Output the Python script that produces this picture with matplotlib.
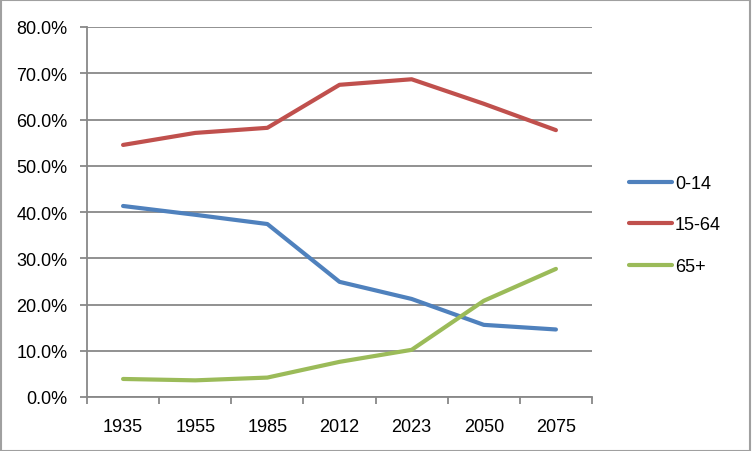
import matplotlib
matplotlib.use("Agg")
import matplotlib.pyplot as plt
from matplotlib.patches import Rectangle
from matplotlib.ticker import FuncFormatter

years = ["1935", "1955", "1985", "2012", "2023", "2050", "2075"]
age_0_14 = [41.3, 39.4, 37.4, 24.9, 21.2, 15.6, 14.6]
age_15_64 = [54.5, 57.1, 58.2, 67.5, 68.7, 63.4, 57.7]
age_65_plus = [3.9, 3.6, 4.2, 7.6, 10.2, 20.8, 27.7]

series = [("0-14", age_0_14, "#4F81BD"),
          ("15-64", age_15_64, "#C0504D"),
          ("65+", age_65_plus, "#9BBB59")]

plt.rcParams["font.family"] = ["Liberation Sans", "DejaVu Sans"]
GRID = "#888888"

fig = plt.figure(figsize=(7.52, 4.52), dpi=100)
ax = fig.add_axes([87 / 752, 1 - 398 / 452, (592 - 87) / 752, (398 - 28) / 452])

x = list(range(len(years)))
for name, vals, col in series:
    ax.plot(x, vals, color=col, lw=3, label=name, solid_capstyle="round",
            solid_joinstyle="round", zorder=3)

ax.set_ylim(0, 80)
ax.set_xlim(-0.5, len(years) - 0.5)
ax.set_yticks(range(0, 81, 10))
ax.yaxis.set_major_formatter(FuncFormatter(lambda v, p: f"{v:.1f}%"))
ax.set_xticks(x)
ax.set_xticklabels(years)
ax.set_xticks([i - 0.5 for i in range(len(years) + 1)], minor=True)

ax.grid(axis="y", color=GRID, lw=1.3, zorder=1)
for s in ["top", "right"]:
    ax.spines[s].set_visible(False)
for s in ["left", "bottom"]:
    ax.spines[s].set_color(GRID)
    ax.spines[s].set_linewidth(1.3)

ax.tick_params(axis="y", which="major", length=5, width=1.3, color=GRID,
               labelsize=13, pad=9)
ax.tick_params(axis="x", which="major", length=0, labelsize=13, pad=15)
ax.tick_params(axis="x", which="minor", length=5, width=1.3, color=GRID)

fig.legend(loc="center left", bbox_to_anchor=(629 / 752, 0.5), frameon=False,
           fontsize=13, handlelength=2.4, handletextpad=0.15, labelspacing=1.35,
           borderpad=0, borderaxespad=0)

fig.patches.append(Rectangle((0.001, 0.001), 0.997, 0.997, transform=fig.transFigure,
                             fill=False, edgecolor="#A0A0A0", lw=1.5))

fig.savefig("out.png", dpi=100)
